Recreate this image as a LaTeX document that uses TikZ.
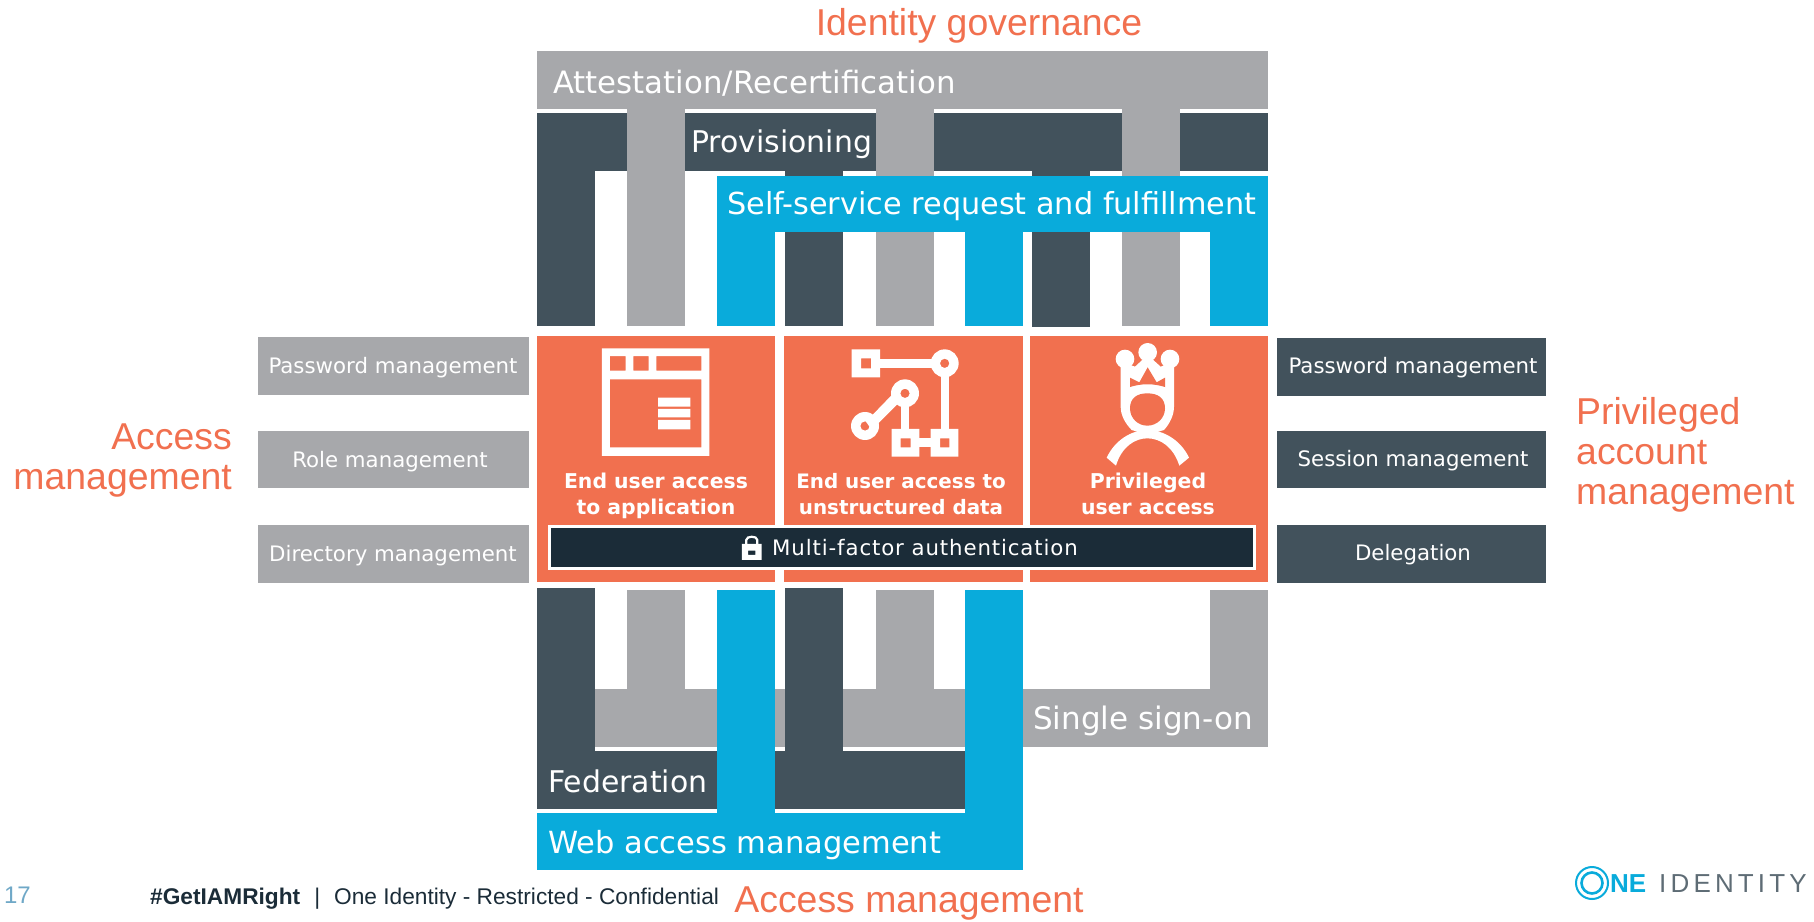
\documentclass[tikz,border=0pt]{standalone}
\usepackage{fontspec}
\setmainfont{Liberation Sans}
\newfontfamily\dv{DejaVu Sans}
\newfontfamily\dvs[LetterSpace=4.1]{DejaVu Sans}
\definecolor{cgray}{HTML}{A7A8AB}
\definecolor{cdark}{HTML}{42525C}
\definecolor{cblue}{HTML}{09ABDB}
\definecolor{corange}{HTML}{F1704F}
\definecolor{cnavy}{HTML}{1B2C38}
\definecolor{cfoot}{HTML}{6FA8C7}
\newcommand{\bigsz}[1]{\dv\fontsize{#1}{#1}\selectfont}
\tikzset{
  bigl/.style={inner sep=0pt,text=white,anchor=west},
  sidel/.style={inner sep=0pt,text=white,font=\dv\fontsize{21.3}{21.3}\selectfont},
  tile/.style={inner sep=0pt,text=white,align=center,font=\dv\bfseries\fontsize{20.4}{26}\selectfont},
  tilen/.style={inner sep=0pt,text=white,align=center,font=\dv\bfseries\fontsize{19.9}{26}\selectfont},
  head/.style={inner sep=0pt,text=corange,font=\fontsize{37.4}{40}\selectfont},
}
\begin{document}
\begin{tikzpicture}[x=1pt,y=-1pt]
\useasboundingbox (0,0) rectangle (1814,921);
% top group
\fill[cdark] (537,113) rectangle (1268,171);
\fill[cdark] (537,113) rectangle (595,326);
\fill[cdark] (785,113) rectangle (843,326);
\fill[cdark] (1032,113) rectangle (1090,327);
\fill[cgray] (537,51) rectangle (1268,109);
\fill[cgray] (627,51) rectangle (685,326);
\fill[cgray] (876,51) rectangle (934,326);
\fill[cgray] (1122,51) rectangle (1180,326);
\fill[cblue] (717,176) rectangle (1268,232);
\fill[cblue] (717,176) rectangle (775,326);
\fill[cblue] (964.5,176) rectangle (1022.5,326);
\fill[cblue] (1210,176) rectangle (1268,326);
\node[bigl,font=\bigsz{30.8}] (attest) at (553,83) {Attestation/Recertification};
\node[bigl,font=\bigsz{29.9}] (prov) at (691,144) {Provisioning};
\node[bigl,font=\bigsz{30.3}] (self) at (727,206) {Self-service request and fulfillment};
% orange
\fill[corange] (537,336) rectangle (775,582);
\fill[corange] (784,336) rectangle (1023,582);
\fill[corange] (1030,336) rectangle (1268,582);
% window icon
\begin{scope}[shift={(530,330)},x=0.4785pt,y=-0.3333pt,white]
\fill[even odd rule] (150,55) rectangle (375,378) (167,148) rectangle (358,352)
 (167,78) rectangle (200,122) (216,78) rectangle (248,122) (264,78) rectangle (358,122);
\fill (268,203) rectangle (335,230) (268,237) rectangle (335,262) (268,270) rectangle (335,298);
\end{scope}
% network icon
\begin{scope}[shift={(840,340)},x=0.3333pt,y=-0.3333pt,white]
\fill[even odd rule] (35,28) rectangle (120,112) (63,55) rectangle (93,85);
\fill (120,56) rectangle (290,84);
\fill (302,100) rectangle (327,270);
\fill (183,190) rectangle (208,270);
\fill (180,185) -- (95,270) -- (78,245) -- (165,155) -- cycle;
\fill (238,295) rectangle (272,322);
\fill[even odd rule] (155,267) rectangle (238,350) (182,295) rectangle (212,322);
\fill[even odd rule] (272,267) rectangle (355,350) (300,295) rectangle (328,322);
\fill[even odd rule] (314,70) circle [radius=42] (314,70) circle [radius=14];
\fill[even odd rule] (195,160) circle [radius=42] (195,160) circle [radius=14];
\fill[even odd rule] (75,258) circle [radius=42] (75,258) circle [radius=14];
\end{scope}
% person icon
\begin{scope}[shift={(1090,335)},x=0.3333pt,y=-0.3333pt,white]
\fill (105,72) circle [radius=28];
\fill (173,52) circle [radius=28];
\fill (240,72) circle [radius=28];
\fill (92,80) -- (135,95) -- (173,60) -- (212,95) -- (252,80) -- (252,215)
 .. controls (252,240) and (240,265) .. (222,285) -- (172,300) -- (125,285)
 .. controls (105,265) and (92,240) .. (92,215) -- cycle;
\fill[corange] (120,128) -- (148,142) -- (173,97) -- (200,142) -- (225,128) -- (225,156)
 .. controls (190,145) and (155,145) .. (120,156) -- cycle;
\fill[corange] (172,175) .. controls (205,175) and (225,190) .. (225,220)
 .. controls (225,250) and (200,272) .. (172,272) .. controls (144,272) and (120,250) .. (120,220)
 .. controls (120,190) and (140,175) .. (172,175) -- cycle;
\fill (50,368) .. controls (75,315) and (125,285) .. (172,285) .. controls (220,285) and (272,315) .. (297,368)
 -- (268,392) .. controls (250,335) and (210,310) .. (172,310) .. controls (135,310) and (95,335) .. (78,392) -- cycle;
\end{scope}
\node[tile] (t1) at (656,495.5) {End user access\\to application};
\node[tilen] (t2) at (901,494) {End user access to\\unstructured data};
\node[tile] (t3) at (1148,494) {Privileged\\user access};
% MFA
\fill[white] (548,525) rectangle (1256,570);
\fill[cnavy] (551,528) rectangle (1253,567);
\begin{scope}[shift={(530,330)},x=0.4785pt,y=-0.3333pt,white]
\fill[even odd rule] (443,642) rectangle (484,690) (456,662) rectangle (471,675);
\draw[line width=2.2pt] (452,642) -- (452,630) .. controls (452,617) and (475,617) .. (475,630) -- (475,642);
\end{scope}
\node[inner sep=0pt,text=white,font=\dvs\fontsize{21.3}{21.3}\selectfont,anchor=west] (mfa) at (772,548) {Multi-factor authentication};
% side boxes
\fill[cgray] (258,337) rectangle (529,395);
\fill[cgray] (258,431) rectangle (529,488);
\fill[cgray] (258,525) rectangle (529,583);
\fill[cdark] (1277,338) rectangle (1546,396);
\fill[cdark] (1277,431) rectangle (1546,488);
\fill[cdark] (1277,525) rectangle (1546,583);
\node[sidel] (l1) at (393,368) {Password management};
\node[sidel] (l2) at (390,462) {Role management};
\node[sidel] (l3) at (393,556) {Directory management};
\node[sidel] (r1) at (1413,368) {Password management};
\node[sidel] (r2) at (1413,461) {Session management};
\node[sidel] (r3) at (1413,555) {Delegation};
% bottom group
\fill[cgray] (595,689) rectangle (1268,747);
\fill[cgray] (627,590) rectangle (685,689);
\fill[cgray] (876,590) rectangle (934,689);
\fill[cgray] (1210,590) rectangle (1268,689);
\fill[cdark] (537,751) rectangle (964.5,809);
\fill[cdark] (537,588) rectangle (595,809);
\fill[cdark] (785,588) rectangle (843,809);
\fill[cblue] (537,813) rectangle (1022.5,870);
\fill[cblue] (717,590) rectangle (775,813);
\fill[cblue] (964.5,590) rectangle (1022.5,813);
\node[bigl,font=\bigsz{31}] (sso) at (1033,721) {Single sign-on};
\node[bigl,font=\bigsz{29.9}] (fed) at (548,781) {Federation};
\node[bigl,font=\bigsz{30.5}] (web) at (548,845) {Web access management};
% headings
\node[head] (h1) at (979,26) {Identity governance};
\node[head] (h2) at (909,904) {Access management};
\node[head,align=right,anchor=east] (h3) at (232,461) {Access\\management};
\node[head,align=left,anchor=west] (h4) at (1576,455) {Privileged\\account\\management};
% footer
\node[inner sep=0pt,text=cfoot,font=\fontsize{24}{24}\selectfont] (pg) at (17.5,895) {17};
\node[inner sep=0pt,anchor=west,text=cnavy,font=\fontsize{22.7}{22.7}\selectfont] (ft) at (150,899) {\textbf{\#GetIAMRight}\hspace{14pt}|\hspace{14pt}One Identity - Restricted - Confidential};
% logo
\begin{scope}[cblue]
\draw[line width=2pt] (1592,883) circle (16);
\draw[line width=2.6pt] (1592,883) circle (10.5);
\end{scope}
\node[inner sep=0pt,anchor=west,text=cblue,font=\bfseries\fontsize{26}{26}\selectfont] (logoa) at (1610,884) {NE};
\node[inner sep=0pt,anchor=west,text=cdark!85,font=\fontsize{26}{26}\selectfont\addfontfeature{LetterSpace=16}] (logob) at (1659,884) {IDENTITY};
\end{tikzpicture}
\end{document}
